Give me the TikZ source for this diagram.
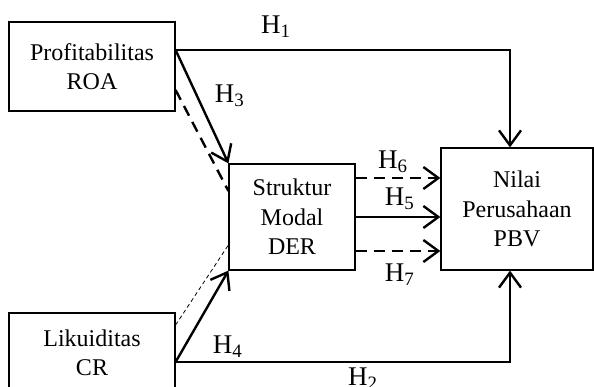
\documentclass[tikz,border=0pt]{standalone}
\usepackage{fontspec}
\setmainfont{Liberation Serif}
\usetikzlibrary{arrows.meta}
\begin{document}
\begin{tikzpicture}[
x=1pt,y=-1pt,
every node/.style={font=\fontsize{24}{29.5}\selectfont},
box/.style={draw,line width=1.2pt,align=center,inner sep=0pt},
lbl/.style={inner sep=0pt,font=\fontsize{27}{30}\selectfont},
hyp/.style={line width=2.4pt,-{Straight Barb[length=15pt,width=22pt]}},
hypdash/.style={hyp,dash pattern=on 11pt off 7pt},
link/.style={line width=0.8pt,dash pattern=on 4pt off 3pt}
]
\useasboundingbox (0,0) rectangle (594,387);
\clip (0,0) rectangle (594,387);
\node[box,minimum width=166pt,minimum height=89pt] (prof) at (92,66.5) {Profitabilitas\\ROA};
\node[box,minimum width=126pt,minimum height=106pt] (der) at (292,217) {Struktur\\Modal\\DER};
\node[box,minimum width=152pt,minimum height=122pt] (pbv) at (517,209) {Nilai\\Perusahaan\\PBV};
\node[box,minimum width=166pt,minimum height=80pt] (cr) at (92,353) {Likuiditas\\CR};
% hipotesis
\draw[hyp] ([yshift=16.5pt]prof.east) -| ([xshift=-7pt]pbv.north)
  node[lbl,pos=0.15,yshift=23pt] (h1) {H\textsubscript{1}};
\draw[hyp] ([yshift=16.5pt]prof.east) -- (der.north west)
  node[lbl,pos=0.4,xshift=33pt] (h3) {H\textsubscript{3}};
\draw[hypdash,-] ([yshift=-23.5pt]prof.east) -- ([yshift=26pt]der.west);
\draw[hyp] ([yshift=-9pt]cr.east) -- (der.south west)
  node[lbl,pos=0.17,xshift=43pt] (h4) {H\textsubscript{4}};
\draw[hyp] ([yshift=-9pt]cr.east) -| ([xshift=-7pt]pbv.south)
  node[lbl,pos=0.28,yshift=-17pt] (h2) {H\textsubscript{2}};
\draw[link] ([yshift=28pt]cr.east) -- ([yshift=-28pt]der.west);
\draw[hypdash] ([yshift=39pt]der.east) -- ([yshift=39pt]der.east -| pbv.west)
  node[lbl,pos=0.44,yshift=16pt] (h6) {H\textsubscript{6}};
\draw[hyp] (der.east) -- (der.east -| pbv.west)
  node[lbl,pos=0.52,yshift=18pt] (h5) {H\textsubscript{5}};
\draw[hypdash] ([yshift=-34pt]der.east) -- ([yshift=-34pt]der.east -| pbv.west)
  node[lbl,pos=0.52,yshift=-24pt] (h7) {H\textsubscript{7}};
\end{tikzpicture}
\end{document}
